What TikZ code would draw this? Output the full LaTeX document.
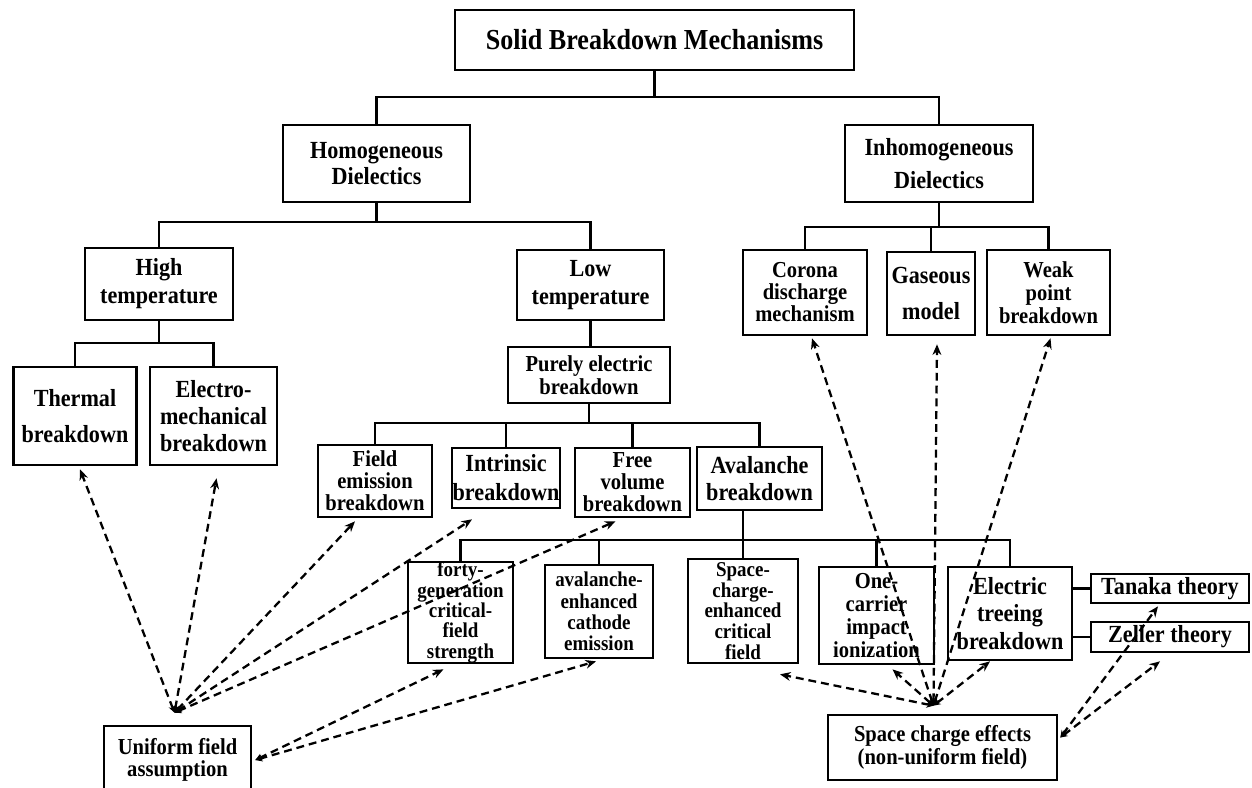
\documentclass[tikz,border=0pt]{standalone}
\usepackage{fontspec}
\setmainfont{Liberation Serif}[FakeStretch=0.9]
\usetikzlibrary{arrows.meta,calc}

\tikzset{
  mech/.style={draw, line width=1.5pt, align=center, inner sep=0pt,
    font=\bfseries\fontsize{14}{15}\selectfont},
  sz/.style 2 args={minimum width=#1*0.2mm, minimum height=#2*0.2mm},
  ls/.style={font=\bfseries\fontsize{14}{#1}\selectfont},
  lsd/.style={font=\bfseries\fontsize{13}{#1}\selectfont},
  lss/.style={font=\bfseries\fontsize{12}{#1}\selectfont},
  branch/.style={line width=1.3pt},
  dashlink/.style={line width=1.3pt, dash pattern=on 4.5pt off 2.8pt,
    {Stealth[length=4pt,width=4pt]}-{Stealth[length=6pt,width=5pt]}}
}

\begin{document}
\begin{tikzpicture}[x=0.2mm, y=-0.2mm]
  \useasboundingbox (0,0) rectangle (1252,787);

  \node[mech, sz={399}{60}, font=\bfseries\fontsize{16.5}{18}\selectfont] (title) at (654.5,40) {Solid Breakdown Mechanisms};
  \node[mech, sz={187}{77}, ls=15] (homo) at (376.5,163.5) {Homogeneous\\Dielectics};
  \node[mech, sz={188}{77}, ls=19] (inhomo) at (939,163.5) {Inhomogeneous\\Dielectics};
  \node[mech, sz={148}{72}, ls=16] (high) at (159,284) {High\\temperature};
  \node[mech, sz={147}{70}, ls=15.5] (low) at (590.5,285) {Low\\temperature};
  \node[mech, sz={123}{98}, ls=20] (thermal) at (75,416) {Thermal\\breakdown};
  \node[mech, sz={127}{98}, ls=15.5] (electro) at (213.5,416) {Electro-\\mechanical\\breakdown};
  \node[mech, sz={162}{56}, lsd=12.8] (purely) at (589,375) {Purely electric\\breakdown};
  \node[mech, sz={114}{72}, lsd=12.5] (field) at (375,481) {Field\\emission\\breakdown};
  \node[mech, sz={108}{60}, ls=16.5] (intrinsic) at (506,478) {Intrinsic\\breakdown};
  \node[mech, sz={115}{69}, lsd=12.5] (freevol) at (632.5,482.5) {Free\\volume\\breakdown};
  \node[mech, sz={125}{63}, ls=15.5] (aval) at (759.5,478.5) {Avalanche\\breakdown};
  \node[mech, sz={124}{85}, lsd=12.5] (corona) at (805,292.5) {Corona\\discharge\\mechanism};
  \node[mech, sz={88}{83}, ls=20] (gaseous) at (931,293.5) {Gaseous\\model};
  \node[mech, sz={123}{85}, lsd=13.2] (weak) at (1048.5,292.5) {Weak\\point\\breakdown};
  \node[mech, sz={105}{101}, lss=11.6] (forty) at (460.5,612.5) {forty-\\generation\\critical-\\field\\strength};
  \node[mech, sz={108}{93}, lss=12.2] (avenh) at (599,611.5) {avalanche-\\enhanced\\cathode\\emission};
  \node[mech, sz={110}{104}, lss=11.8] (sc) at (743,611) {Space-\\charge-\\enhanced\\critical\\field};
  \node[mech, sz={115}{97}, lsd=13] (one) at (876.5,615.5) {One-\\carrier\\impact\\ionization};
  \node[mech, sz={124}{93}, ls=15.5] (tree) at (1010,613.5) {Electric\\treeing\\breakdown};
  \node[mech, sz={158}{29}] (tanaka) at (1170,588.5) {Tanaka theory};
  \node[mech, sz={158}{30}] (zeller) at (1170,637) {Zeller theory};
  \node[mech, sz={229}{65}, lsd=12.8] (sce) at (942.5,747.5) {Space charge effects\\(non-uniform field)};
  \node[mech, sz={147}{68}, lsd=12.8] (uniform) at (177.5,760) {Uniform field\\assumption};

  \coordinate (lv1) at (0,97);
  \coordinate (lv2) at (0,222);
  \coordinate (lv2r) at (0,227);
  \coordinate (lv3) at (0,343);
  \coordinate (lv4) at (0,423);
  \coordinate (lv5) at (0,540);

  \draw[branch] (title.south) -- (title.south |- lv1);
  \draw[branch] (homo.north) |- (inhomo.north |- lv1) -- (inhomo.north);
  \draw[branch] (homo.south) -- (homo.south |- lv2);
  \draw[branch] (high.north) |- (low.north |- lv2) -- (low.north);
  \draw[branch] (inhomo.south) -- (inhomo.south |- lv2r);
  \draw[branch] (corona.north) |- (weak.north |- lv2r) -- (weak.north);
  \draw[branch] (gaseous.north) -- (gaseous.north |- lv2r);
  \draw[branch] (high.south) -- (high.south |- lv3);
  \draw[branch] (thermal.north) |- (electro.north |- lv3) -- (electro.north);
  \draw[branch] (low.south) -- (low.south |- purely.north);
  \draw[branch] (purely.south) -- (purely.south |- lv4);
  \draw[branch] (field.north) |- (aval.north |- lv4) -- (aval.north);
  \foreach \n in {intrinsic,freevol}
    \draw[branch] (\n.north) -- (\n.north |- lv4);
  \draw[branch] (sc.north |- aval.south) -- (sc.north |- lv5);
  \draw[branch] (forty.north) |- (tree.north |- lv5) -- (tree.north);
  \foreach \n in {avenh,sc,one}
    \draw[branch] (\n.north) -- (\n.north |- lv5);
  \draw[branch] (tanaka.west -| tree.east) -- (tanaka.west);
  \draw[branch] (zeller.west -| tree.east) -- (zeller.west);

  \coordinate (ufTop) at ($(uniform.north)+(-3,-12)$);
  \coordinate (ufSide) at ($(uniform.east)+(3,0)$);
  \coordinate (sceTop) at ($(sce.north)+(-9,-8)$);
  \coordinate (sceSide) at ($(sce.east)+(2,-10)$);

  \foreach \t/\dx/\dy in {thermal/5/3, electro/3/12, field/-20/3, intrinsic/-34/10, freevol/-17/3}
    \draw[dashlink] (ufTop) -- ($(\t.south)+(\dx,\dy)$);
  \foreach \t/\dx/\dy in {forty/-17/5, avenh/-3/2}
    \draw[dashlink] (ufSide) -- ($(\t.south)+(\dx,\dy)$);
  \foreach \t/\dx/\dy in {sc/37/10, one/16/4, corona/7/2, gaseous/6/8, weak/2/2, tree/-20/0}
    \draw[dashlink] (sceTop) -- ($(\t.south)+(\dx,\dy)$);
  \foreach \t/\dx/\dy in {tanaka/-12/2, zeller/-10/8}
    \draw[dashlink] (sceSide) -- ($(\t.south)+(\dx,\dy)$);
\end{tikzpicture}
\end{document}
